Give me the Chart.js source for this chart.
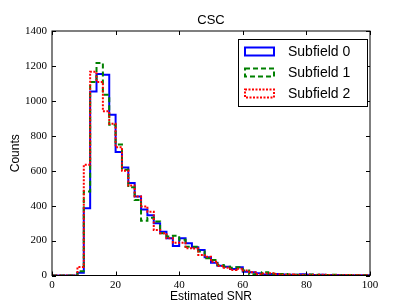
<!DOCTYPE html>
<html>
<head>
<meta charset="utf-8">
<script src="https://cdn.jsdelivr.net/npm/chart.js@4/dist/chart.umd.min.js"></script>
<style>
  html, body { margin: 0; padding: 0; background: #fff; }
  #wrap { width: 411px; height: 308px; position: relative; }
</style>
</head>
<body>
<div id="wrap"><canvas id="chart" width="411" height="308"></canvas></div>
<script>
// bin edges (estimated SNR), 2 units wide
const binEdges = [0, 2, 4, 6, 8, 10, 12, 14, 16, 18, 20, 22, 24, 26, 28, 30, 32, 34, 36, 38, 40,
    42, 44, 46, 48, 50, 52, 54, 56, 58, 60, 62, 64, 66, 68, 70, 72, 74, 76, 78, 80,
    82, 84, 86, 88, 90, 92, 94, 96, 98, 100];

const subfield0 = [0, 0, 0, 0, 16, 385, 1054, 1154, 1150, 921,
    707, 618, 530, 452, 378, 345, 299, 251, 213, 169,
    213, 185, 162, 146, 104, 73, 56, 50, 37, 47,
    22, 18, 13, 6, 8, 9, 6, 5, 4, 7,
    4, 3, 5, 3, 2, 3, 2, 2, 1, 2];
const subfield1 = [0, 0, 0, 0, 25, 481, 1108, 1217, 1035, 863,
    750, 605, 505, 433, 314, 330, 309, 242, 223, 227,
    204, 165, 165, 137, 99, 89, 60, 50, 45, 47,
    28, 7, 3, 18, 10, 6, 8, 4, 5, 3,
    6, 4, 2, 3, 4, 2, 3, 1, 2, 1];
const subfield2 = [0, 0, 0, 0, 49, 634, 1166, 1108, 940, 869,
    735, 600, 515, 452, 395, 365, 261, 242, 213, 188,
    188, 156, 154, 118, 108, 79, 54, 45, 32, 39,
    28, 18, 7, 12, 13, 7, 5, 6, 3, 4,
    5, 2, 4, 3, 2, 1, 3, 2, 1, 2];

const seriesNames = ['Subfield 0', 'Subfield 1', 'Subfield 2'];
const xTicks = [0, 20, 40, 60, 80, 100];
const yTicks = [0, 200, 400, 600, 800, 1000, 1200, 1400];

const serif = '"Liberation Serif", "DejaVu Serif", serif';
const sans = '"Liberation Sans", Arial, sans-serif';

// outline of a step histogram: each edge holds the count of the bin to its right
function stepPoints(counts) {
    return binEdges.map((e, i) => ({ x: e, y: i < counts.length ? counts[i] : 0 }));
}

const styles = [
    { color: '#0000ff', dash: [] },
    { color: '#008000', dash: [5, 3] },
    { color: '#ff0000', dash: [2, 1.5] }
];

const decor = {
    id: 'decor',
    afterDatasetsDraw(chart) {
        const { ctx, chartArea: a, scales } = chart;
        ctx.save();
        ctx.strokeStyle = '#000';
        ctx.lineWidth = 1;
        ctx.setLineDash([]);
        ctx.strokeRect(a.left, a.top, a.right - a.left, a.bottom - a.top);
        // inward ticks on all four sides
        ctx.beginPath();
        xTicks.forEach(v => {
            const px = Math.round(scales.x.getPixelForValue(v)) + 0.5;
            ctx.moveTo(px, a.bottom); ctx.lineTo(px, a.bottom - 4);
            ctx.moveTo(px, a.top); ctx.lineTo(px, a.top + 4);
        });
        yTicks.forEach(v => {
            const py = Math.round(scales.y.getPixelForValue(v)) + 0.5;
            ctx.moveTo(a.left, py); ctx.lineTo(a.left + 4, py);
            ctx.moveTo(a.right, py); ctx.lineTo(a.right - 4, py);
        });
        ctx.stroke();
        ctx.restore();
    },
    afterDraw(chart) {
        const { ctx, chartArea: a } = chart;
        ctx.save();
        ctx.fillStyle = '#000';
        ctx.textAlign = 'center';
        ctx.textBaseline = 'middle';
        ctx.font = '13px ' + sans;
        ctx.fillText('CSC', (a.left + a.right) / 2, 20);
        ctx.font = '12px ' + sans;
        ctx.fillText('Estimated SNR', (a.left + a.right) / 2, 297);
        ctx.save();
        ctx.translate(16, (a.top + a.bottom) / 2);
        ctx.rotate(-Math.PI / 2);
        ctx.fillText('Counts', 0, 0);
        ctx.restore();

        // legend box
        const lx = 238.5, ly = 39.5, lw = 129, lh = 67;
        ctx.fillStyle = '#fff';
        ctx.fillRect(lx, ly, lw, lh);
        ctx.strokeStyle = '#000';
        ctx.lineWidth = 1;
        ctx.strokeRect(lx, ly, lw, lh);
        ctx.font = '14px ' + sans;
        ctx.textAlign = 'left';
        seriesNames.forEach((name, i) => {
            const cy = 51.5 + i * 21;
            ctx.strokeStyle = styles[i].color;
            ctx.lineWidth = 2;
            ctx.setLineDash(styles[i].dash);
            ctx.strokeRect(245, cy - 4, 29, 8);
            ctx.setLineDash([]);
            ctx.fillStyle = '#000';
            ctx.fillText(name, 288, cy + 1);
        });
        ctx.restore();
    }
};

const allCounts = [subfield0, subfield1, subfield2];

new Chart(document.getElementById('chart'), {
    type: 'line',
    data: {
        datasets: allCounts.map((counts, i) => ({
            label: seriesNames[i],
            data: stepPoints(counts),
            stepped: 'before',
            borderColor: styles[i].color,
            borderDash: styles[i].dash,
            borderWidth: 2,
            borderCapStyle: 'butt',
            pointRadius: 0,
            fill: false,
            order: 3 - i
        }))
    },
    options: {
        responsive: false,
        animation: false,
        layout: { padding: { left: 0, right: 41, top: 31, bottom: 0 } },
        plugins: {
            legend: { display: false },
            tooltip: { enabled: false },
            title: { display: false }
        },
        scales: {
            x: {
                type: 'linear',
                min: 0,
                max: 100,
                afterFit: s => { s.height = 32.5; },
                afterBuildTicks: s => { s.ticks = xTicks.map(v => ({ value: v })); },
                grid: { display: false, drawTicks: false },
                border: { display: false },
                ticks: { color: '#000', padding: 3, maxRotation: 0, callback: v => String(v), font: { family: serif, size: 11 } }
            },
            y: {
                type: 'linear',
                min: 0,
                max: 1400,
                afterFit: s => { s.width = 52; },
                afterBuildTicks: s => { s.ticks = yTicks.map(v => ({ value: v })); },
                grid: { display: false, drawTicks: false },
                border: { display: false },
                ticks: { color: '#000', padding: 5, callback: v => String(v), font: { family: serif, size: 11 } }
            }
        }
    },
    plugins: [decor]
});
</script>
</body>
</html>
